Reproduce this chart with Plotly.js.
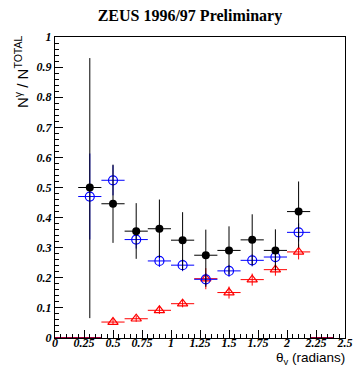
<!DOCTYPE html>
<html><head><meta charset="utf-8">
<script src="https://cdn.plot.ly/plotly-3.0.1.min.js"></script>
<style>html,body{margin:0;padding:0;background:#fff}</style>
</head><body><div id="plot" style="width:355px;height:365px"></div>
<script>
// theta_gamma bin centres
var xAll = [0.3, 0.5, 0.7, 0.9, 1.1, 1.3, 1.5, 1.7, 1.9, 2.1];
var xHalfWidth = [0.1, 0.1, 0.1, 0.1, 0.1, 0.1, 0.1, 0.1, 0.1, 0.1];
// black filled circles
var blackY = [0.50, 0.446, 0.355, 0.363, 0.325, 0.275, 0.291, 0.326, 0.291, 0.42];
var blackErrUp = [0.43, 0.13, 0.093, 0.097, 0.093, 0.085, 0.08, 0.085, 0.07, 0.10];
var blackErrDn = [0.434, 0.13, 0.092, 0.097, 0.10, 0.105, 0.08, 0.085, 0.066, 0.12];
// blue open circles
var blueY = [0.47, 0.524, 0.327, 0.256, 0.242, 0.195, 0.223, 0.258, 0.269, 0.351];
var blueErr = [0.143, 0.05, 0.03, 0.02, 0.02, 0.02, 0.02, 0.02, 0.02, 0.03];
// red open triangles
var redX = [0.5, 0.7, 0.9, 1.1, 1.3, 1.5, 1.7, 1.9, 2.1];
var redY = [0.053, 0.064, 0.092, 0.114, 0.197, 0.151, 0.194, 0.227, 0.286];
var redErr = [0.01, 0.01, 0.012, 0.012, 0.035, 0.02, 0.02, 0.02, 0.025];
// empty red bins drawn along zero
var zeroX1 = [0.0, 0.4];
var zeroX2 = [2.2, 2.4];
var zeroY = [0, 0];

var xTickVals = [0, 0.25, 0.5, 0.75, 1, 1.25, 1.5, 1.75, 2, 2.25, 2.5];
var xTickText = ['0', '0.25', '0.5', '0.75', '1', '1.25', '1.5', '1.75', '2', '2.25', '2.5'];
var yTickVals = [0, 0.1, 0.2, 0.3, 0.4, 0.5, 0.6, 0.7, 0.8, 0.9, 1];
var yTickText = ['0', '0.1', '0.2', '0.3', '0.4', '0.5', '0.6', '0.7', '0.8', '0.9', '1'];

var tickFont = {family: 'Liberation Serif, Times New Roman, serif', size: 12, color: '#000', weight: 'bold', style: 'italic'};

var traces = [
  {x: zeroX1, y: zeroY, mode: 'lines', line: {color: '#a0003c', width: 2}, cliponaxis: false, hoverinfo: 'skip'},
  {x: zeroX2, y: zeroY, mode: 'lines', line: {color: '#a0003c', width: 2}, cliponaxis: false, hoverinfo: 'skip'},
  {x: redX, y: redY, mode: 'markers', type: 'scatter',
   marker: {symbol: 'triangle-up-open', size: 9, color: '#ff0000', line: {width: 1.2, color: '#ff0000'}},
   error_y: {type: 'data', array: redErr, color: '#ff0000', thickness: 1, width: 0},
   error_x: {type: 'data', array: xHalfWidth.slice(1), color: '#ff0000', thickness: 1, width: 0}},
  {x: xAll, y: blueY, mode: 'markers', type: 'scatter',
   marker: {symbol: 'circle-open', size: 9, color: '#0000ff', line: {width: 1.2, color: '#0000ff'}},
   error_y: {type: 'data', array: blueErr, color: '#0000ff', thickness: 1, width: 0},
   error_x: {type: 'data', array: xHalfWidth, color: '#0000ff', thickness: 1, width: 0}},
  {x: xAll, y: blackY, mode: 'markers', type: 'scatter',
   marker: {symbol: 'circle', size: 8, color: '#000'},
   error_y: {type: 'data', symmetric: false, array: blackErrUp, arrayminus: blackErrDn, color: '#000', thickness: 1, width: 0},
   error_x: {type: 'data', array: xHalfWidth, color: '#000', thickness: 1, width: 0}}
];

var layout = {
  width: 355, height: 365,
  margin: {l: 55, r: 10, t: 37, b: 27},
  showlegend: false,
  paper_bgcolor: '#fff', plot_bgcolor: '#fff',
  title: {text: 'ZEUS 1996/97 Preliminary', xref: 'container', yref: 'container', x: 0.535, xanchor: 'center', y: 1 - 15/365, yanchor: 'middle',
          font: {family: 'Liberation Serif, Times New Roman, serif', size: 16, color: '#000', weight: 'bold'}},
  xaxis: {range: [0, 2.5], showgrid: false, zeroline: false, showline: true, linecolor: '#000', linewidth: 1, mirror: true,
          ticks: 'inside', ticklen: 8, tickcolor: '#000', tickwidth: 1, ticklabelstandoff: -6,
          tickmode: 'array', tickvals: xTickVals, ticktext: xTickText, tickfont: tickFont,
          minor: {dtick: 0.05, tick0: 0, ticks: 'inside', ticklen: 4, tickcolor: '#000', showgrid: false}},
  yaxis: {range: [0, 1], showgrid: false, zeroline: false, showline: true, linecolor: '#000', linewidth: 1, mirror: true,
          ticks: 'inside', ticklen: 8, tickcolor: '#000', tickwidth: 1,
          tickmode: 'array', tickvals: yTickVals, ticktext: yTickText, tickfont: tickFont,
          minor: {dtick: 0.02, tick0: 0, ticks: 'inside', ticklen: 4, tickcolor: '#000', showgrid: false}},
  annotations: [
    {text: 'N<sup>γ</sup> / N<sup>TOTAL</sup>', xref: 'paper', yref: 'paper', x: -33/290, y: 1.01, xanchor: 'center', yanchor: 'top',
     textangle: -90, showarrow: false, font: {family: 'Liberation Sans, Arial, sans-serif', size: 15, color: '#000'}},
    {text: 'θ<sub>γ</sub> (radians)', xref: 'paper', yref: 'paper', x: 1.005, y: -0.036, xanchor: 'right', yanchor: 'top',
     showarrow: false, borderpad: 0, font: {family: 'Liberation Sans, Arial, sans-serif', size: 13.5, color: '#000'}}
  ]
};
Plotly.newPlot('plot', traces, layout, {displayModeBar: false, staticPlot: true});
</script></body></html>
